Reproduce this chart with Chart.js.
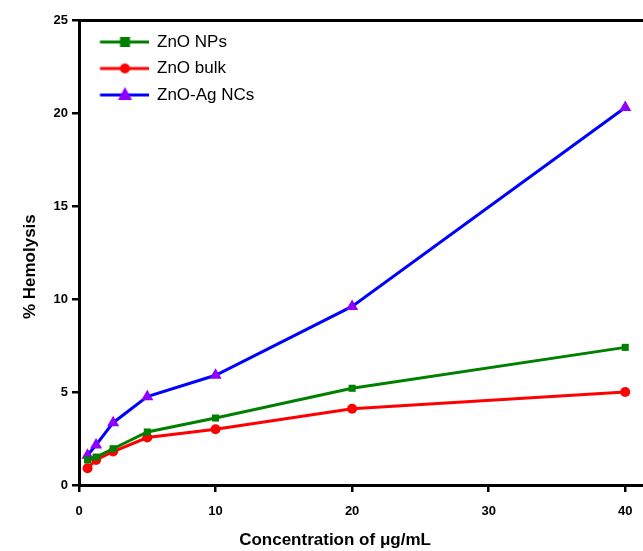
<!DOCTYPE html>
<html>
<head>
<meta charset="utf-8">
<script src="https://cdn.jsdelivr.net/npm/chart.js@4"></script>
<style>
  html, body { margin: 0; padding: 0; background: #fff; overflow: hidden; }
  #wrap { width: 643px; height: 551px; }
  canvas { display: block; }
</style>
</head>
<body>
<div id="wrap"><canvas id="chart1" width="643" height="551"></canvas></div>
<script>
// concentrations (ug/mL) and % hemolysis
var concentrations = [0.625, 1.25, 2.5, 5, 10, 20, 40];
var znoNPs   = [1.35, 1.5, 1.95, 2.85, 3.6, 5.2, 7.4];
var znoBulk  = [0.9, 1.35, 1.8, 2.55, 3.0, 4.1, 5.0];
var znoAgNCs = [1.6, 2.15, 3.35, 4.75, 5.9, 9.6, 20.3];
var seriesNames = ['ZnO NPs', 'ZnO bulk', 'ZnO-Ag NCs'];

function toPoints(ys) {
    return concentrations.map(function (x, i) { return {x: x, y: ys[i]}; });
}

// legend symbol: a short line with the marker in the middle
function legendIcon(lineColor, markerColor, shape) {
    var c = document.createElement('canvas');
    c.width = 60; c.height = 16;
    var ctx = c.getContext('2d');
    ctx.strokeStyle = lineColor;
    ctx.lineWidth = 3;
    ctx.beginPath(); ctx.moveTo(11.5, 8); ctx.lineTo(60, 8); ctx.stroke();
    ctx.fillStyle = markerColor;
    ctx.beginPath();
    if (shape === 'rect') ctx.rect(31.5, 3, 10, 10);
    else if (shape === 'circle') ctx.arc(36.5, 8, 5, 0, Math.PI * 2);
    else { ctx.moveTo(36.5, 0); ctx.lineTo(43.5, 13); ctx.lineTo(29.5, 13); ctx.closePath(); }
    ctx.fill();
    return c;
}

var icons = [
    legendIcon('#008000', '#008000', 'rect'),
    legendIcon('#ff0000', '#ff0000', 'circle'),
    legendIcon('#0000ff', '#8f00ff', 'triangle')
];

// trailing no-break spaces nudge the centred axis titles like the original
var nbsp = '\u00a0';

new Chart('chart1', {
    type: 'line',
    data: {
        datasets: [
            {
                label: seriesNames[0],
                data: toPoints(znoNPs),
                borderColor: '#008000',
                backgroundColor: '#008000',
                borderWidth: 3,
                pointStyle: 'rect',
                pointRadius: 5,
                pointBorderWidth: 0
            },
            {
                label: seriesNames[1],
                data: toPoints(znoBulk),
                borderColor: '#ff0000',
                backgroundColor: '#ff0000',
                borderWidth: 3,
                pointStyle: 'circle',
                pointRadius: 5,
                pointBorderWidth: 0
            },
            {
                label: seriesNames[2],
                data: toPoints(znoAgNCs),
                borderColor: '#0000ff',
                backgroundColor: '#8f00ff',
                borderWidth: 3,
                pointStyle: 'triangle',
                pointRadius: 7,
                pointBorderWidth: 0
            }
        ]
    },
    options: {
        responsive: false,
        animation: false,
        layout: { autoPadding: false, padding: { top: 20, right: 0, left: 0, bottom: 0 } },
        elements: { line: { tension: 0 } },
        plugins: {
            tooltip: { enabled: false },
            legend: {
                position: 'chartArea',
                align: 'start',
                title: { display: true, text: ' ', font: { size: 1 }, padding: { top: 0, bottom: 22.8 } },
                labels: {
                    usePointStyle: true,
                    pointStyleWidth: 60,
                    padding: 9.5,
                    color: '#000',
                    font: { family: 'Liberation Sans', size: 17 },
                    generateLabels: function (chart) {
                        return chart.data.datasets.map(function (ds, i) {
                            return {
                                text: ds.label,
                                pointStyle: icons[i],
                                fillStyle: ds.backgroundColor,
                                strokeStyle: ds.borderColor,
                                fontColor: '#000',
                                lineWidth: 0,
                                hidden: false,
                                datasetIndex: i
                            };
                        });
                    }
                }
            }
        },
        scales: {
            x: {
                type: 'linear',
                position: 'bottom',
                min: 0,
                max: 41.3,
                afterFit: function (s) { s.height = 66; s.paddingLeft = 0; s.paddingRight = 0; },
                border: { color: '#000', width: 3 },
                grid: { drawOnChartArea: false, drawTicks: true, tickLength: 7, tickColor: '#000', lineWidth: 2.5 },
                ticks: {
                    stepSize: 10,
                    includeBounds: false,
                    padding: 12,
                    color: '#000',
                    maxRotation: 0,
                    font: { family: 'Liberation Sans', size: 13, weight: 'bold' }
                },
                title: {
                    display: true,
                    text: 'Concentration of \u03bcg/mL' + nbsp.repeat(11),
                    color: '#000',
                    padding: { top: 0, bottom: 0 },
                    font: { family: 'Liberation Sans', size: 17, weight: 'bold' }
                }
            },
            x2: {
                type: 'linear',
                position: 'top',
                min: 0,
                max: 1,
                afterFit: function (s) { s.height = 0; s.paddingLeft = 0; s.paddingRight = 0; },
                border: { color: '#000', width: 3 },
                grid: { drawOnChartArea: false, drawTicks: false },
                ticks: { display: false }
            },
            y: {
                min: 0,
                max: 25,
                afterFit: function (s) { s.width = 79; },
                border: { color: '#000', width: 3 },
                grid: { drawOnChartArea: false, drawTicks: true, tickLength: 7, tickColor: '#000', lineWidth: 2.5 },
                ticks: {
                    stepSize: 5,
                    padding: 4,
                    color: '#000',
                    font: { family: 'Liberation Sans', size: 13, weight: 'bold' }
                },
                title: {
                    display: true,
                    text: '% Hemolysis' + nbsp.repeat(6),
                    color: '#000',
                    padding: { top: 20, bottom: 0 },
                    font: { family: 'Liberation Sans', size: 17, weight: 'bold' }
                }
            }
        }
    }
});
</script>
</body>
</html>
